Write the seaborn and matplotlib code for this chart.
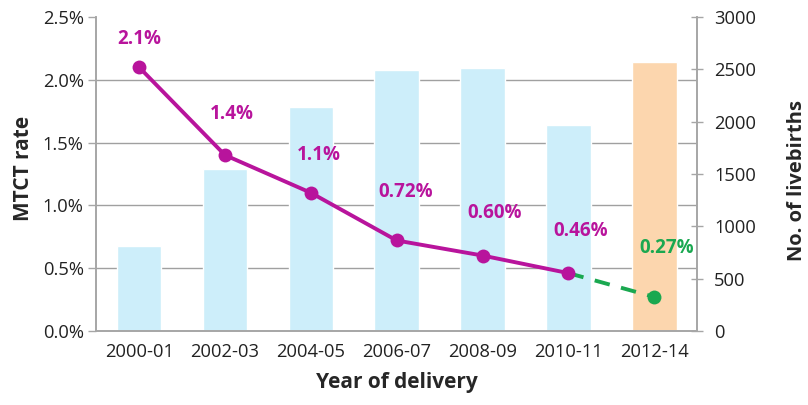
import matplotlib
matplotlib.use("Agg")
import matplotlib.pyplot as plt
from matplotlib.ticker import MultipleLocator, FuncFormatter
import seaborn as sns
import pandas as pd

periods = ["2000-01", "2002-03", "2004-05", "2006-07", "2008-09", "2010-11", "2012-14"]
livebirths = [810, 1550, 2140, 2490, 2510, 1965, 2570]
mtct_rate = [2.1, 1.4, 1.1, 0.72, 0.60, 0.46, 0.27]
rate_labels = ["2.1%", "1.4%", "1.1%", "0.72%", "0.60%", "0.46%", "0.27%"]

bar_colors = ["#cdeefa"] * 6 + ["#fcd6ae"]
magenta = "#b8149c"
green = "#1aa850"
grey = "#a6a6a6"

sns.set_theme(style="white")
plt.rcParams["font.family"] = ["Open Sans", "DejaVu Sans"]

fig = plt.figure(figsize=(8.08, 4.05), dpi=100)
ax = fig.add_axes([0.119, 0.183, 0.744, 0.775])
ax2 = ax.twinx()

df = pd.DataFrame({"period": periods, "births": livebirths, "rate": mtct_rate})
df["pos"] = range(len(df))

# bars on the right axis
sns.barplot(data=df, x="period", y="births", hue="period", palette=bar_colors,
            width=0.52, legend=False, ax=ax2, saturation=1, zorder=2)
ax2.set_ylim(0, 3000)
ax2.yaxis.set_major_locator(MultipleLocator(500))
ax2.yaxis.set_minor_locator(MultipleLocator(600))
ax2.grid(which="minor", axis="y", color="#a0a0a0", linewidth=1.0, zorder=0)
ax2.grid(which="major", visible=False)
ax2.set_axisbelow(True)
ax2.set_ylabel("No. of livebirths", fontsize=14.5, fontweight="bold", labelpad=22)
ax2.yaxis.label.set_y(0.478)
ax2.tick_params(axis="y", which="major", direction="inout", length=8, width=1,
                color=grey, labelsize=13.2, pad=8, labelcolor="#222222")
ax2.tick_params(axis="y", which="minor", length=0)
ax2.set_xlabel("")

# line on left axis, above bars
ax.set_zorder(ax2.get_zorder() + 1)
ax.patch.set_visible(False)
solid = df.iloc[:6]
dashed = df.iloc[5:7]
sns.lineplot(x=dashed["pos"], y=dashed["rate"], ax=ax, color=green, linewidth=2.8,
             linestyle=(0, (4, 3)), zorder=3)
sns.lineplot(x=solid["pos"], y=solid["rate"], ax=ax, color=magenta, linewidth=2.8,
             marker="o", markersize=10, markeredgewidth=0, zorder=4)
sns.scatterplot(x=df["pos"].iloc[6:], y=df["rate"].iloc[6:], ax=ax, color=green,
                s=100, linewidth=0, zorder=5)

offsets = [(0, 28), (7, 41), (8, 38), (9, 48), (12, 43), (12, 42), (12, 49)]
for i, (p, r, lab) in enumerate(zip(df["pos"], mtct_rate, rate_labels)):
    c = green if i == 6 else magenta
    ax.annotate(lab, (p, r), xytext=offsets[i], textcoords="offset pixels",
                ha="center", va="center", fontsize=13.5, fontweight="bold", color=c)

ax.set_xlim(-0.5, 6.5)
ax2.set_xlim(-0.5, 6.5)
ax.set_ylim(0, 2.5)
ax.yaxis.set_major_locator(MultipleLocator(0.5))
ax.yaxis.set_major_formatter(FuncFormatter(lambda v, _: f"{v:.1f}%"))
ax.set_ylabel("MTCT rate", fontsize=15, fontweight="bold", labelpad=6)
ax.yaxis.label.set_y(0.516)
ax.set_xlabel("Year of delivery", fontsize=15, fontweight="bold", labelpad=8)
ax.set_xticks(range(len(periods)))
ax.set_xticklabels(periods)
ax.tick_params(axis="y", direction="out", length=6, width=1, color=grey,
               labelsize=13.2, pad=3, labelcolor="#222222")
ax.tick_params(axis="x", length=0, labelsize=13.2, pad=9, labelcolor="#222222")
ax.set_xticks([i + 0.5 for i in range(-1, len(periods))], minor=True)
ax.tick_params(axis="x", which="minor", direction="out", length=5, width=1, color=grey)
ax2.tick_params(axis="x", bottom=False, labelbottom=False)

for a in (ax, ax2):
    a.spines["top"].set_visible(False)
    for s in ("left", "right", "bottom"):
        a.spines[s].set_color(grey)
        a.spines[s].set_linewidth(1.2)

fig.savefig("out.png", dpi=100, facecolor="white")
